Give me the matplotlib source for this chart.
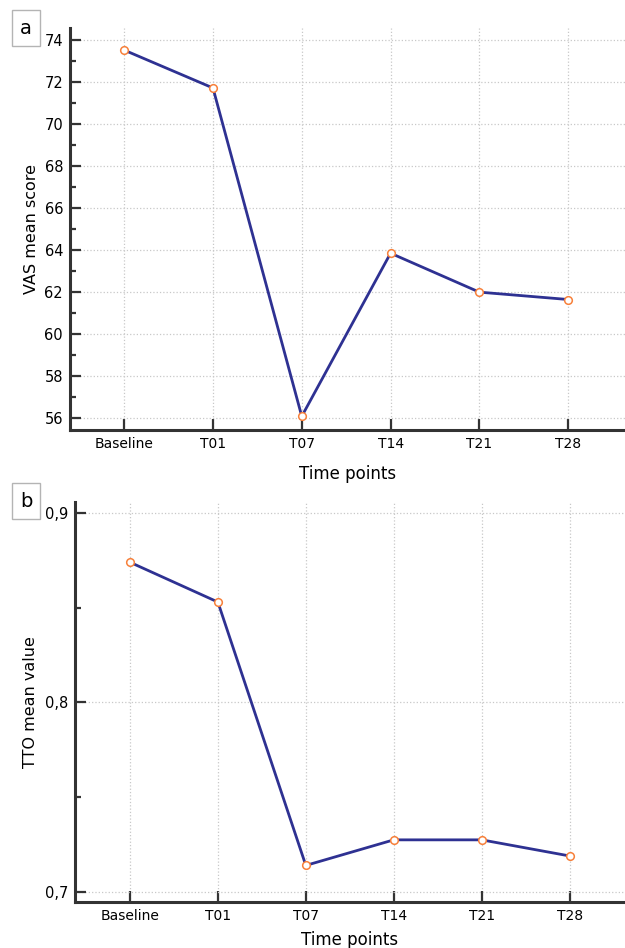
import matplotlib.pyplot as plt
from matplotlib.ticker import MultipleLocator, FuncFormatter

# Dados
time_points = ['Baseline', 'T01', 'T07', 'T14', 'T21', 'T28']
vas_mean = [73.5, 71.7, 56.1, 63.85, 62.0, 61.65]
tto_mean = [0.874, 0.853, 0.714, 0.7275, 0.7275, 0.719]

line_color = '#2e3192'
marker_edge = '#f7803a'
spine_color = '#333333'

fig = plt.figure(figsize=(6.25, 9.48), dpi=100)
ax1 = fig.add_axes([70/625, 1 - 430/948, 1 - 70/625, 402/948])
ax2 = fig.add_axes([75/625, 1 - 902/948, 1 - 75/625, 400/948])


def estilo(ax, pad_x=10):
    for s in ['left', 'bottom']:
        ax.spines[s].set_color(spine_color)
        ax.spines[s].set_linewidth(2.2)
    ax.spines['top'].set_visible(False)
    ax.spines['right'].set_visible(False)
    ax.tick_params(axis='both', which='major', direction='in', length=8,
                   width=1.6, color=spine_color, labelsize=10, pad=5)
    ax.tick_params(axis='y', which='major', labelsize=10.5)
    ax.tick_params(axis='y', which='minor', direction='in', length=4.5,
                   width=1.6, color=spine_color)
    ax.tick_params(axis='x', which='minor', length=0)
    ax.grid(True, which='major', color='#c8c8c8', linestyle=':', linewidth=0.9)
    ax.set_axisbelow(True)
    ax.set_xlabel('Time points', fontsize=12, labelpad=pad_x)


# Painel a
x = list(range(len(time_points)))
ax1.plot(x, vas_mean, color=line_color, linewidth=2, marker='o',
         markersize=5.5, markerfacecolor='white', markeredgecolor=marker_edge,
         markeredgewidth=1.1, zorder=3)
ax1.set_xticks(x)
ax1.set_xticklabels(time_points)
ax1.set_xlim(-0.61, 5.64)
ax1.set_ylim(55.45, 74.55)
ax1.yaxis.set_major_locator(MultipleLocator(2))
ax1.yaxis.set_minor_locator(MultipleLocator(1))
ax1.set_ylabel('VAS mean score', fontsize=11.5, labelpad=4)
estilo(ax1)

# Painel b
ax2.plot(x, tto_mean, color=line_color, linewidth=2, marker='o',
         markersize=5.5, markerfacecolor='white', markeredgecolor=marker_edge,
         markeredgewidth=1.1, zorder=3)
ax2.set_xticks(x)
ax2.set_xticklabels(time_points)
ax2.set_xlim(-0.625, 5.63)
ax2.set_ylim(0.6947, 0.9058)
ax2.yaxis.set_major_locator(MultipleLocator(0.1))
ax2.yaxis.set_minor_locator(MultipleLocator(0.05))
ax2.yaxis.set_major_formatter(FuncFormatter(lambda v, p: f'{v:.1f}'.replace('.', ',')))
ax2.set_ylabel('TTO mean value', fontsize=11.5, labelpad=5)
estilo(ax2, pad_x=6)

# Rótulos dos painéis
for letra, yy in [('a', 1 - 28/948), ('b', 1 - 501/948)]:
    fig.text(26/625, yy, letra, fontsize=14, ha='center', va='center',
             bbox=dict(boxstyle='square,pad=0.42', facecolor='white',
                       edgecolor='#b4b4b4', linewidth=1))

plt.savefig('out.png', dpi=100)
plt.close()
